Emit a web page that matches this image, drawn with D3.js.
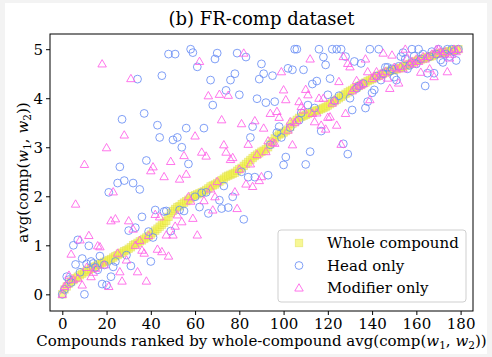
<!DOCTYPE html>
<html><head><meta charset="utf-8">
<script src="https://cdn.jsdelivr.net/npm/d3@7"></script>
<style>
html,body{margin:0;padding:0;background:#f3f3f3;}
svg{display:block;}
text{font-family:"DejaVu Serif",serif;fill:#000;}
</style></head><body>
<svg id="c" width="492" height="357"></svg>
<script>
// ---- data ----
const xTicks = [0,20,40,60,80,100,120,140,160,180];
const yTicks = [0,1,2,3,4,5];
const seriesNames = ["Whole compound","Head only","Modifier only"];
const whole = [
0.0,0.1,0.16,0.22,0.26,0.29,0.33,0.36,0.39,0.42,
0.45,0.47,0.5,0.52,0.55,0.57,0.6,0.62,0.64,0.66,
0.68,0.7,0.72,0.75,0.78,0.8,0.83,0.85,0.88,0.9,
0.93,0.96,1.0,1.02,1.05,1.08,1.1,1.13,1.16,1.19,
1.22,1.26,1.3,1.34,1.38,1.42,1.46,1.5,1.58,1.66,
1.7,1.74,1.78,1.8,1.84,1.87,1.9,1.93,1.96,2.0,
2.02,2.04,2.06,2.08,2.1,2.13,2.16,2.2,2.22,2.24,
2.27,2.3,2.33,2.36,2.4,2.42,2.44,2.46,2.48,2.52,
2.55,2.58,2.62,2.66,2.7,2.74,2.78,2.82,2.85,2.88,
2.91,2.93,2.96,3.0,3.06,3.12,3.18,3.22,3.26,3.28,
3.3,3.33,3.36,3.42,3.48,3.52,3.56,3.6,3.62,3.64,
3.66,3.68,3.7,3.72,3.74,3.75,3.76,3.78,3.8,3.82,
3.85,3.88,3.91,3.94,3.97,4.0,4.03,4.06,4.09,4.12,
4.15,4.17,4.2,4.22,4.25,4.27,4.3,4.32,4.35,4.37,
4.39,4.41,4.44,4.46,4.48,4.5,4.52,4.54,4.56,4.57,
4.58,4.59,4.61,4.62,4.64,4.66,4.68,4.7,4.72,4.74,
4.76,4.78,4.79,4.8,4.82,4.84,4.85,4.86,4.88,4.9,
4.91,4.92,4.93,4.94,4.95,4.96,4.97,4.98,4.99,5.0];
const head = [
0.0,0.1,0.36,0.3,0.24,1.0,0.61,1.11,0.45,0.73,
0.0,0.62,0.99,0.67,0.63,0.55,0.5,0.78,0.21,0.6,
0.19,2.08,0.36,0.56,0.67,2.27,2.6,3.57,2.32,0.8,
1.3,0.58,2.27,1.36,4.39,2.14,1.58,3.69,2.73,1.28,
0.67,1.16,1.72,3.45,3.2,4.46,1.69,1.7,4.9,1.29,
3.15,4.9,3.2,1.72,3.0,1.7,3.39,2.66,5.0,4.93,
1.99,4.64,1.78,2.07,3.39,2.08,1.65,4.37,3.86,4.8,
4.92,1.92,1.75,2.21,4.16,1.77,4.37,1.99,4.5,4.92,
4.07,2.5,1.53,4.84,2.39,3.2,3.42,2.39,3.99,4.39,
4.7,4.5,3.91,2.43,3.05,4.46,3.93,3.3,3.42,3.2,
2.64,2.8,4.61,3.4,4.58,5.0,5.0,3.55,3.7,4.58,
2.65,3.86,2.91,4.29,3.8,4.35,5.0,3.33,4.84,4.68,
4.07,4.4,5.0,3.95,5.0,4.05,5.0,3.07,4.85,2.86,
4.0,3.76,4.75,4.2,4.25,4.71,4.3,3.8,3.93,5.0,
4.11,4.17,4.45,5.0,4.37,4.5,4.63,4.63,4.55,4.6,
4.43,4.37,4.65,4.85,4.93,4.8,4.6,4.67,5.0,4.86,
4.7,5.0,4.8,4.9,4.25,4.51,4.85,4.95,4.51,4.9,
5.0,4.78,4.73,4.9,5.0,4.85,5.0,4.95,4.77,5.0];
const modifier = [
0.0,0.16,0.2,0.39,0.82,0.3,1.84,0.33,1.11,0.19,
2.65,0.55,1.2,0.36,0.45,0.53,0.99,0.97,4.7,0.6,
2.99,0.16,1.5,2.09,1.54,0.84,0.46,0.27,3.25,0.7,
1.5,4.4,1.33,1.0,0.46,1.1,0.9,0.84,0.27,1.2,
2.52,2.6,1.63,0.92,1.58,0.87,2.4,1.21,0.78,2.71,
1.21,1.39,1.62,2.35,1.48,2.83,2.45,1.99,1.9,1.55,
3.23,1.21,4.75,2.9,1.91,2.82,4.05,2.15,1.72,1.99,
2.3,4.08,3.56,3.05,2.9,4.06,2.75,2.79,2.09,1.75,
2.55,3.48,4.92,2.25,3.06,2.66,2.2,3.54,2.85,2.32,
2.4,3.39,2.91,3.13,3.69,3.1,3.08,3.73,3.61,4.54,
4.17,3.97,3.35,3.52,3.05,3.5,3.55,3.93,3.83,3.76,
4.18,4.07,4.8,3.69,3.52,3.7,4.0,3.45,4.0,3.37,
3.61,3.62,3.9,3.95,3.45,4.34,3.06,4.85,3.69,4.71,
4.64,4.15,4.2,4.36,4.25,4.27,4.3,4.8,4.54,3.97,
4.4,4.45,4.54,4.45,4.5,4.92,4.55,4.41,4.2,4.88,
4.63,4.6,4.31,4.65,4.6,5.0,4.82,4.7,4.75,4.7,
4.8,4.75,4.53,4.85,4.8,4.85,4.6,4.9,4.44,4.99,
5.0,4.95,4.9,4.95,4.54,4.82,4.9,5.0,4.95,5.0];

// ---- layout ----
const svg = d3.select("#c");
const L=50, R=473, T=34, B=311;
svg.append("rect").attr("x",5).attr("y",3).attr("width",482).attr("height",351).attr("fill","#fff");
const x = d3.scaleLinear().domain([-5.56,185.6]).range([L,R]);
const y = d3.scaleLinear().domain([-0.34,5.31]).range([B,T]);

const cW = {fill:"#f2f24e", fillOp:0.6, stroke:"#d8d838"};
const cH = "#6a8ef5";
const cM = "#ff5ee8";

const g = svg.append("g");
const sq = 7.5;
g.selectAll("rect.w").data(whole).join("rect").attr("class","w")
  .attr("x",(d,i)=>x(i)-sq/2).attr("y",d=>y(d)-sq/2).attr("width",sq).attr("height",sq)
  .attr("fill",cW.fill).attr("fill-opacity",cW.fillOp).attr("stroke",cW.stroke).attr("stroke-opacity",0.45).attr("stroke-width",0.8);
g.selectAll("circle.h").data(head).join("circle").attr("class","h")
  .attr("cx",(d,i)=>x(i)).attr("cy",d=>y(d)).attr("r",3.9)
  .attr("fill","none").attr("stroke",cH).attr("stroke-opacity",0.85).attr("stroke-width",1);
const tri = d3.symbol().type(d3.symbolTriangle).size(31);
g.selectAll("path.m").data(modifier).join("path").attr("class","m")
  .attr("d",tri).attr("transform",(d,i)=>`translate(${x(i)},${y(d)+0.6})`)
  .attr("fill","none").attr("stroke",cM).attr("stroke-opacity",0.85).attr("stroke-width",1);

// axes
const xa = svg.append("g").attr("transform",`translate(0,${B})`)
  .call(d3.axisBottom(x).tickValues(xTicks).tickSize(4).tickPadding(3).tickFormat(d3.format("d")));
const ya = svg.append("g").attr("transform",`translate(${L},0)`)
  .call(d3.axisLeft(y).tickValues(yTicks).tickSize(4).tickPadding(3).tickFormat(d3.format("d")));
[xa,ya].forEach(a=>{a.select(".domain").remove();
  a.selectAll("text").attr("font-family","DejaVu Serif").attr("font-size",15).attr("fill","#000");
  a.selectAll("line").attr("stroke","#000");});
svg.append("rect").attr("x",L).attr("y",T).attr("width",R-L).attr("height",B-T)
  .attr("fill","none").attr("stroke","#000").attr("stroke-width",1);

// title
svg.append("text").attr("x",(L+R)/2).attr("y",25).attr("text-anchor","middle")
  .attr("font-size",18).text("(b) FR-comp dataset");

// x label
const xl = svg.append("text").attr("x",(L+R)/2).attr("y",346).attr("text-anchor","middle").attr("font-size",15);
xl.append("tspan").text("Compounds ranked by whole-compound avg(comp(");
xl.append("tspan").attr("font-style","italic").text("w");
xl.append("tspan").attr("font-size",10.5).attr("dy",3).text("1");
xl.append("tspan").attr("dy",-3).text(", ");
xl.append("tspan").attr("font-style","italic").text("w");
xl.append("tspan").attr("font-size",10.5).attr("dy",3).text("2");
xl.append("tspan").attr("dy",-3).text("))");

// y label
const yl = svg.append("text").attr("transform",`translate(28,${(T+B)/2}) rotate(-90)`).attr("text-anchor","middle").attr("font-size",15);
yl.append("tspan").text("avg(comp(");
yl.append("tspan").attr("font-style","italic").text("w");
yl.append("tspan").attr("font-size",10.5).attr("dy",3).text("1");
yl.append("tspan").attr("dy",-3).text(", ");
yl.append("tspan").attr("font-style","italic").text("w");
yl.append("tspan").attr("font-size",10.5).attr("dy",3).text("2");
yl.append("tspan").attr("dy",-3).text("))");

// legend
const lg = svg.append("g");
lg.append("rect").attr("x",278).attr("y",230).attr("width",188).attr("height",72).attr("rx",3)
  .attr("fill","#fff").attr("fill-opacity",0.85).attr("stroke","#cfcfcf").attr("stroke-width",1);
const rows = [243,265.5,288];
seriesNames.forEach((n,k)=>{
  const cy = rows[k], cx = 299;
  if(k===0) lg.append("rect").attr("x",cx-sq/2).attr("y",cy-sq/2).attr("width",sq).attr("height",sq)
     .attr("fill",cW.fill).attr("fill-opacity",cW.fillOp).attr("stroke",cW.stroke).attr("stroke-opacity",0.45).attr("stroke-width",0.8);
  if(k===1) lg.append("circle").attr("cx",cx).attr("cy",cy).attr("r",3.9).attr("fill","none").attr("stroke",cH).attr("stroke-opacity",0.85);
  if(k===2) lg.append("path").attr("d",tri).attr("transform",`translate(${cx},${cy+0.6})`).attr("fill","none").attr("stroke",cM).attr("stroke-opacity",0.85);
  lg.append("text").attr("x",327).attr("y",cy+5).attr("font-size",15).text(n);
});
</script>
</body></html>
